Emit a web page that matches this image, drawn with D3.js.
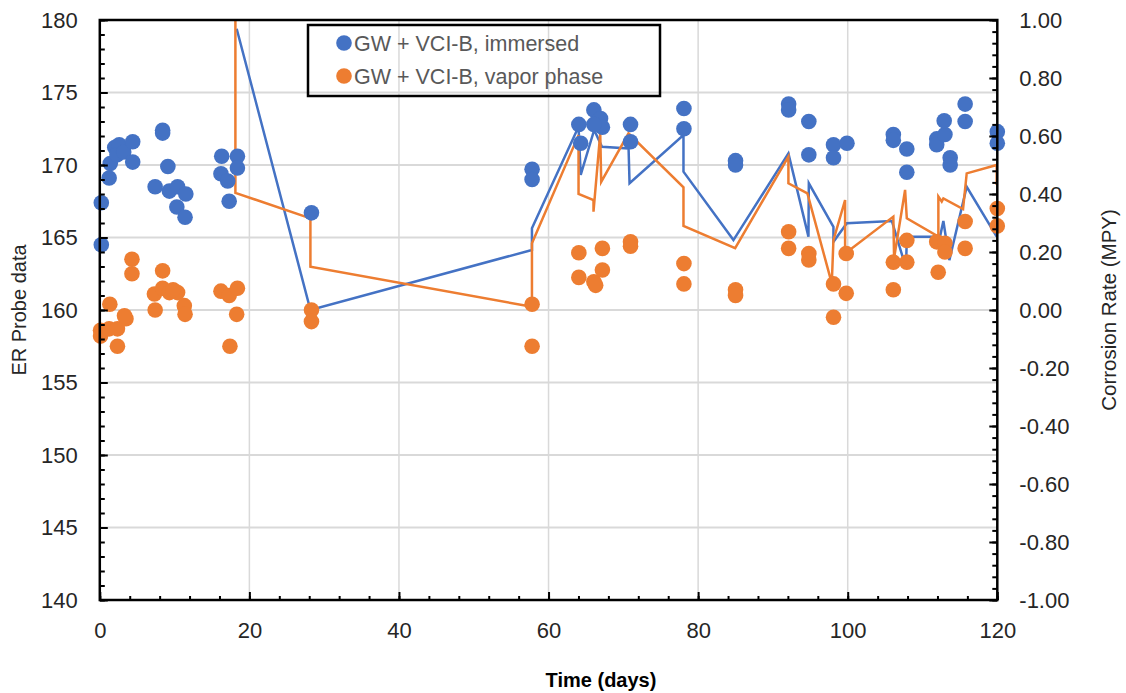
<!DOCTYPE html>
<html>
<head>
<meta charset="utf-8">
<script src="https://cdn.jsdelivr.net/npm/d3@7"></script>
<style>
body { margin: 0; background: #fff; }
text { font-family: "Liberation Sans", Arial, sans-serif; }
</style>
</head>
<body>
<div id="chart"></div>
<script>
// ER probe readings, immersed coupon (left axis)
var immersedDays = [0.2, 0.2, 1.25, 1.4, 2.0, 2.6, 2.3, 3.2, 4.4, 4.4, 8.4, 8.4, 7.4, 9.1, 9.3, 10.4, 11.5, 10.3, 11.4,
    16.3, 16.2, 17.1, 17.3, 18.4, 18.4, 28.3, 57.8, 57.8, 64.05, 64.3, 66.06, 66.95, 67.2, 66.06, 70.96, 70.96,
    78.1, 78.1, 85, 85, 92.1, 92.1, 94.8, 94.8, 98.1, 98.1, 99.9, 106.1, 106.1, 107.9, 107.9, 111.9, 111.9,
    113, 112.9, 113.7, 113.7, 115.7, 115.7, 120, 120];
var immersedER = [167.4, 164.5, 169.1, 170.1, 171.2, 171.4, 170.7, 170.9, 171.6, 170.2, 172.4, 172.2, 168.5, 169.9, 168.2, 168.5, 168.0, 167.1, 166.4,
    170.6, 169.4, 168.9, 167.5, 170.6, 169.8, 166.7, 169.7, 169.0, 172.8, 171.5, 173.8, 173.2, 172.6, 172.8, 172.8, 171.6,
    173.9, 172.5, 170.3, 170.0, 174.2, 173.8, 173.0, 170.7, 171.4, 170.5, 171.5, 172.1, 171.7, 171.1, 169.5, 171.8, 171.4,
    172.1, 173.05, 170.5, 170.0, 174.2, 173.0, 172.3, 171.5];

// ER probe readings, vapor phase coupon (left axis)
var vaporDays = [0.1, 0.1, 1.34, 1.25, 2.36, 2.36, 3.5, 3.3, 4.3, 4.3, 7.3, 7.4, 8.4, 8.4, 9.3, 10.4, 9.8, 11.3, 11.4,
    16.2, 17.3, 18.4, 18.3, 17.4, 28.3, 28.3, 57.8, 57.8, 64.05, 64.05, 66.06, 66.3, 67.2, 67.2, 70.96, 70.96,
    78.1, 78.1, 85, 85, 92.1, 92.1, 94.8, 94.8, 98.1, 98.1, 99.8, 99.8, 106.1, 106.1, 107.9, 107.9, 111.9, 112.1,
    113, 113, 115.7, 115.7, 120, 120];
var vaporER = [158.6, 158.2, 160.4, 158.7, 158.7, 157.5, 159.4, 159.6, 163.5, 162.5, 161.1, 160.0, 162.7, 161.5, 161.2, 161.2, 161.4, 160.3, 159.7,
    161.3, 161.0, 161.5, 159.7, 157.5, 160.0, 159.2, 160.4, 157.5, 163.95, 162.25, 161.95, 161.7, 164.25, 162.76, 164.7, 164.4,
    163.2, 161.8, 161.4, 161.0, 165.4, 164.25, 163.9, 163.45, 161.8, 159.5, 163.9, 161.15, 163.3, 161.4, 164.8, 163.3, 164.7, 162.6,
    164.6, 164.0, 166.1, 164.25, 167.0, 165.8];

// corrosion rate lines (right axis)
var immersedRateDays = [18.3, 28.16, 57.78, 57.78, 64.01, 64.3, 66.1, 67.14, 70.7, 70.83, 78.04, 78.04, 84.72, 92.07,
    94.75, 94.8, 98.09, 98.09, 99.88, 105.9, 107.8, 107.9, 112.34, 112.79, 113.59, 115.91, 119.92];
var immersedRate = [0.97, 0.0, 0.207, 0.282, 0.632, 0.466, 0.621, 0.563, 0.557, 0.437, 0.603, 0.477, 0.241, 0.540,
    0.253, 0.437, 0.287, 0.235, 0.299, 0.307, 0.144, 0.253, 0.253, 0.307, 0.172, 0.425, 0.253];

var vaporRateDays = [18.13, 18.13, 28.16, 28.16, 57.78, 57.78, 64.01, 64.01, 66.01, 66.01, 66.91, 67.04, 70.69, 78.04, 78.04,
    84.95, 92.07, 92.07, 94.61, 97.87, 98.09, 99.65, 99.65, 106.1, 106.2, 107.67, 107.9, 112.12, 112.12, 112.57, 112.79,
    115.42, 115.91, 119.92, 119.92];
var vaporRate = [1.0, 0.404, 0.316, 0.149, 0.011, 0.23, 0.603, 0.40, 0.379, 0.339, 0.609, 0.442, 0.609, 0.423, 0.290,
    0.213, 0.529, 0.437, 0.402, 0.092, 0.241, 0.379, 0.195, 0.322, 0.179, 0.414, 0.316, 0.253, 0.391, 0.374, 0.385,
    0.348, 0.471, 0.50, 0.431];

var xTicks = [0, 20, 40, 60, 80, 100, 120];
var leftTicks = [140, 145, 150, 155, 160, 165, 170, 175, 180];
var rightTicks = [-1, -0.8, -0.6, -0.4, -0.2, 0, 0.2, 0.4, 0.6, 0.8, 1];

var seriesNames = ["GW + VCI-B, immersed", "GW + VCI-B, vapor phase"];
var seriesColors = ["#4472C4", "#ED7D31"];

var width = 1126, height = 693;
var plotLeft = 99.8, plotRight = 997.3, plotTop = 20, plotBottom = 600;

var svg = d3.select("#chart").append("svg")
    .attr("width", width)
    .attr("height", height);

var x = d3.scaleLinear().domain([0, 120]).range([plotLeft, plotRight]);
var yL = d3.scaleLinear().domain([140, 180]).range([plotBottom, plotTop]);
var yR = d3.scaleLinear().domain([-1, 1]).range([plotBottom, plotTop]);

// gridlines
svg.append("g").selectAll("line")
    .data(leftTicks.slice(1, -1))
    .enter().append("line")
    .attr("x1", plotLeft).attr("x2", plotRight)
    .attr("y1", function(d){ return yL(d); })
    .attr("y2", function(d){ return yL(d); })
    .attr("stroke", "#d9d9d9").attr("stroke-width", 2);

svg.append("g").selectAll("line")
    .data(xTicks.slice(1, -1))
    .enter().append("line")
    .attr("y1", plotTop).attr("y2", plotBottom)
    .attr("x1", function(d){ return x(d); })
    .attr("x2", function(d){ return x(d); })
    .attr("stroke", "#d9d9d9").attr("stroke-width", 1.5);

// clip for the lines
svg.append("clipPath").attr("id", "plotclip")
    .append("rect").attr("x", plotLeft).attr("y", plotTop - 1)
    .attr("width", plotRight - plotLeft).attr("height", plotBottom - plotTop + 2);

var rateLine = d3.line()
    .x(function(d){ return x(d[0]); })
    .y(function(d){ return yR(d[1]); });

var plot = svg.append("g").attr("clip-path", "url(#plotclip)");

plot.append("path")
    .datum(d3.zip(immersedRateDays, immersedRate))
    .attr("d", rateLine)
    .attr("fill", "none")
    .attr("stroke", seriesColors[0])
    .attr("stroke-width", 2.5)
    .attr("stroke-linejoin", "miter");

plot.append("path")
    .datum(d3.zip(vaporRateDays, vaporRate))
    .attr("d", rateLine)
    .attr("fill", "none")
    .attr("stroke", seriesColors[1])
    .attr("stroke-width", 2.5)
    .attr("stroke-linejoin", "miter");

// ER points
svg.append("g").selectAll("circle")
    .data(d3.zip(immersedDays, immersedER))
    .enter().append("circle")
    .attr("cx", function(d){ return x(d[0]); })
    .attr("cy", function(d){ return yL(d[1]); })
    .attr("r", 7.8)
    .attr("fill", seriesColors[0]);

svg.append("g").selectAll("circle")
    .data(d3.zip(vaporDays, vaporER))
    .enter().append("circle")
    .attr("cx", function(d){ return x(d[0]); })
    .attr("cy", function(d){ return yL(d[1]); })
    .attr("r", 7.8)
    .attr("fill", seriesColors[1]);

// axes
function styleAxis(g, size){
    g.select(".domain").remove();
    g.selectAll(".tick line").attr("stroke", "#000").attr("stroke-width", 2);
    g.selectAll(".tick text").attr("fill", "#262626")
        .style("font-size", size + "px");
}

var xMinor = svg.append("g").attr("transform", "translate(0," + plotBottom + ")")
    .call(d3.axisBottom(x).tickValues(d3.range(0, 121, 4)).tickSize(-4).tickFormat(""));
styleAxis(xMinor, 22);
var xAxis = svg.append("g").attr("transform", "translate(0," + plotBottom + ")")
    .call(d3.axisBottom(x).tickValues(xTicks).tickSize(-8).tickPadding(22));
styleAxis(xAxis, 22);

var lMinor = svg.append("g").attr("transform", "translate(" + plotLeft + ",0)")
    .call(d3.axisLeft(yL).tickValues(d3.range(140, 180.01, 1)).tickSize(-5).tickFormat(""));
styleAxis(lMinor, 22);
var lAxis = svg.append("g").attr("transform", "translate(" + plotLeft + ",0)")
    .call(d3.axisLeft(yL).tickValues(leftTicks).tickSize(-8).tickPadding(22));
styleAxis(lAxis, 22);

var rMinor = svg.append("g").attr("transform", "translate(" + plotRight + ",0)")
    .call(d3.axisRight(yR).tickValues(d3.range(-1, 1.001, 0.04)).tickSize(-5).tickFormat(""));
styleAxis(rMinor, 22);
var rAxis = svg.append("g").attr("transform", "translate(" + plotRight + ",0)")
    .call(d3.axisRight(yR).tickValues(rightTicks).tickSize(-8).tickPadding(22));
styleAxis(rAxis, 22);
rAxis.selectAll(".tick text").text(function(d){ return d3.format(".2f")(d).replace("−", "-"); });

// plot frame
svg.append("rect")
    .attr("x", plotLeft).attr("y", plotTop)
    .attr("width", plotRight - plotLeft).attr("height", plotBottom - plotTop)
    .attr("fill", "none").attr("stroke", "#000").attr("stroke-width", 2.5);

// axis titles
svg.append("text")
    .attr("transform", "translate(26," + (plotTop + plotBottom) / 2 + ") rotate(-90)")
    .attr("text-anchor", "middle")
    .style("font-size", "20px").attr("fill", "#262626")
    .text("ER Probe data");

svg.append("text")
    .attr("transform", "translate(1116," + (plotTop + plotBottom) / 2 + ") rotate(-90)")
    .attr("text-anchor", "middle")
    .style("font-size", "20.5px").attr("fill", "#262626")
    .text("Corrosion Rate (MPY)");

svg.append("text")
    .attr("x", 601).attr("y", 687)
    .attr("text-anchor", "middle")
    .style("font-size", "20px").style("font-weight", "bold")
    .attr("fill", "#000")
    .text("Time (days)");

// legend
var legend = svg.append("g").attr("transform", "translate(308,25)");
legend.append("rect")
    .attr("width", 352).attr("height", 71)
    .attr("fill", "none").attr("stroke", "#000").attr("stroke-width", 2.5);

var items = legend.selectAll("g")
    .data(seriesNames)
    .enter().append("g")
    .attr("transform", function(d, i){ return "translate(0," + (18 + i * 33) + ")"; });

items.append("circle")
    .attr("cx", 36).attr("cy", 0).attr("r", 7.8)
    .attr("fill", function(d, i){ return seriesColors[i]; });

items.append("text")
    .attr("x", 46).attr("y", 7.5)
    .style("font-size", "21.5px").attr("fill", "#595959")
    .text(function(d){ return d; });
</script>
</body>
</html>
